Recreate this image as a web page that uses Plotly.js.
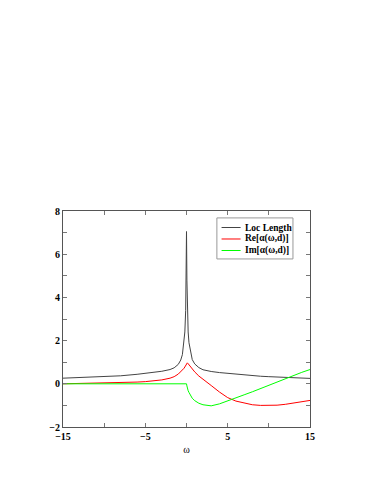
<!DOCTYPE html>
<html>
<head>
<meta charset="utf-8">
<script src="https://cdn.plot.ly/plotly-3.0.1.min.js"></script>
<style>html,body{margin:0;padding:0;background:#fff}#plot{width:374px;height:484px}</style>
</head>
<body>
<div id="plot"></div>
<script>
var omega = [-15,-12,-10,-8,-6,-5,-4,-3,-2,-1.5,-1,-0.7,-0.5,-0.3,-0.2,-0.1,-0.05,0,0.05,0.1,0.2,0.3,0.5,0.7,1,1.5,2,2.5,3,4,5,6,7,8,9,10,11,12,13,14,15];
var locLength = [0.26,0.3,0.33,0.37,0.44,0.48,0.52,0.58,0.66,0.74,0.9,1.1,1.35,1.9,2.4,3.4,4.8,7.05,4.8,3.4,2.4,1.9,1.4,1.12,0.92,0.75,0.65,0.6,0.57,0.52,0.48,0.44,0.41,0.38,0.35,0.33,0.31,0.28,0.27,0.26,0.25];
var reAlpha = [0.0,0.02,0.03,0.05,0.08,0.1,0.13,0.18,0.26,0.33,0.45,0.55,0.63,0.72,0.78,0.85,0.89,0.93,0.96,0.97,0.93,0.88,0.78,0.68,0.55,0.36,0.2,0.05,-0.08,-0.38,-0.64,-0.8,-0.9,-0.97,-1.0,-1.01,-0.99,-0.95,-0.89,-0.83,-0.77];
var imAlpha = [0,0,0,0,0,0,0,0,0,0,0,0,0,0,0,0,0,0,-0.1,-0.2,-0.32,-0.4,-0.56,-0.67,-0.78,-0.9,-0.97,-1.01,-1.02,-0.93,-0.78,-0.64,-0.51,-0.37,-0.22,-0.07,0.1,0.25,0.39,0.53,0.66];
var names = ['Loc Length','Re[\u03b1(\u03c9,d)]','Im[\u03b1(\u03c9,d)]'];
var colors = ['#444','#ff0000','#00ff00'];
var xTickVals = [-15,-10,-5,0,5,10,15];
var xTickText = ['\u221215','','\u22125','','5','','15'];
var yTickVals = [-2,-1,0,1,2,3,4,5,6,7,8];
var yTickText = ['\u22122','','0','','2','','4','','6','','8'];

var fam = '"Liberation Serif", "Times New Roman", serif';
var series = [locLength, reAlpha, imAlpha];
var traces = series.map(function(s, i){
  return {x:omega, y:s, name:names[i], mode:'lines', line:{color:colors[i], width:1}, showlegend:false};
});

// hand-drawn compact legend (gnuplot style)
var legendRows = [0.9236, 0.8704, 0.8171];
var shapes = [{type:'rect', xref:'paper', yref:'paper', x0:0.623, x1:0.931, y0:0.778, y1:0.968,
  line:{color:'#999', width:1}, fillcolor:'#fff', layer:'above'}];
var annotations = [];
names.forEach(function(n, i){
  shapes.push({type:'line', xref:'paper', yref:'paper', x0:0.642, x1:0.719, y0:legendRows[i], y1:legendRows[i],
    line:{color:colors[i], width:1}, layer:'above'});
  annotations.push({xref:'paper', yref:'paper', x:0.733, y:legendRows[i], xanchor:'left', yanchor:'middle',
    text:'<b>'+n+'</b>', showarrow:false, borderpad:0, font:{family:fam, size:9.5, color:'#000'}});
});

var axisCommon = {showgrid:false, zeroline:false, showline:true, linecolor:'#555', linewidth:1,
  mirror:'allticks', ticks:'inside', ticklen:4, tickcolor:'#777', tickfont:{family:fam, size:10, color:'#000', weight:'bold'}};
var layout = {
  width:374, height:484,
  margin:{l:63, r:64, t:211, b:57},
  paper_bgcolor:'#fff', plot_bgcolor:'#fff',
  font:{family:fam, size:10, color:'#000'},
  showlegend:false,
  shapes:shapes, annotations:annotations,
  xaxis:Object.assign({}, axisCommon, {range:[-15,15], tickmode:'array', tickvals:xTickVals, ticktext:xTickText,
    title:{text:'\u03c9', font:{family:fam, size:10, color:'#000'}, standoff:4}}),
  yaxis:Object.assign({}, axisCommon, {range:[-2,8], tickmode:'array', tickvals:yTickVals, ticktext:yTickText})
};
Plotly.newPlot('plot', traces, layout, {staticPlot:true, displayModeBar:false});
</script>
</body>
</html>
